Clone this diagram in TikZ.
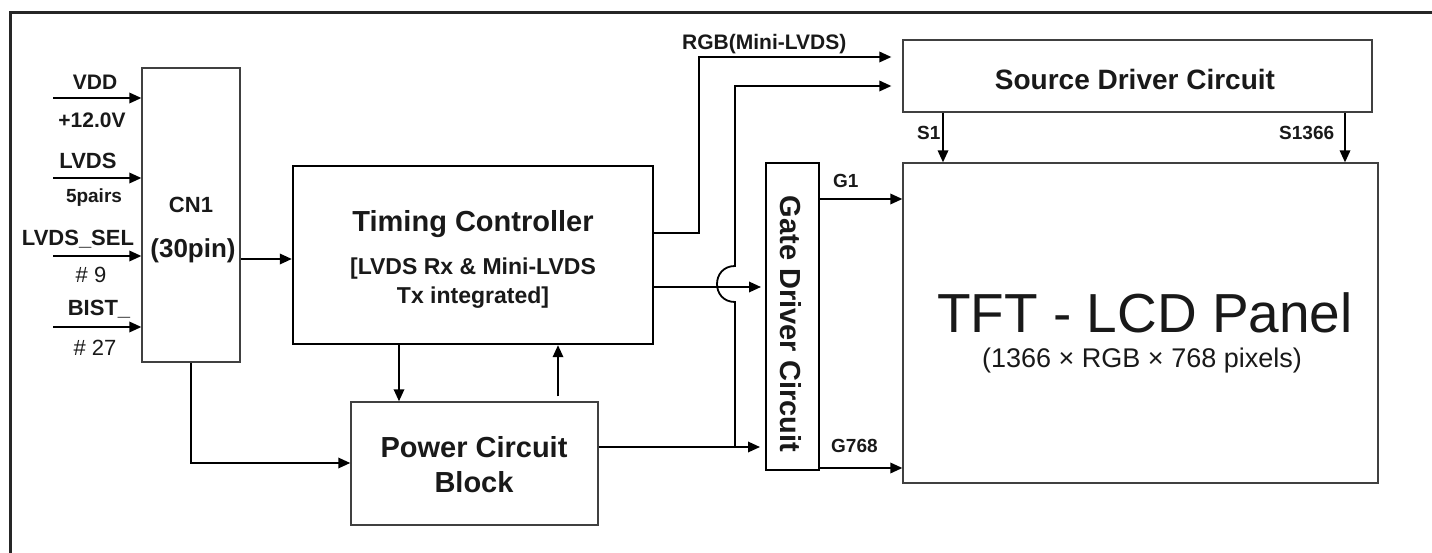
\documentclass[tikz,border=0pt]{standalone}
\usepackage{fontspec}
\setmainfont{Liberation Sans}
\usetikzlibrary{arrows.meta}
\tikzset{
  boxthin/.style={draw=black!75, line width=1.3pt, rectangle, inner sep=0pt},
  boxthick/.style={draw=black, line width=2.4pt, rectangle, inner sep=0pt},
  conn/.style={draw=black, line width=1.8pt},
  arr/.style={conn, -{Triangle[length=12pt,width=10.5pt]}},
  lbl/.style={inner sep=0pt, anchor=base, text=black!90, font=\bfseries\fontsize{21}{25}\selectfont},
  lblw/.style={lbl, anchor=base west},
  reg/.style={inner sep=0pt, anchor=base, text=black!90, font=\fontsize{21}{25}\selectfont},
  big/.style={inner sep=0pt, anchor=base, text=black!90, font=\bfseries\fontsize{29}{34}\selectfont},
  mid/.style={inner sep=0pt, anchor=base, text=black!90, font=\bfseries\fontsize{23}{27}\selectfont},
  sml/.style={inner sep=0pt, anchor=base west, text=black!90, font=\bfseries\fontsize{19}{23}\selectfont},
}
\begin{document}
\begin{tikzpicture}[x=1pt,y=-1pt]
\useasboundingbox (0,0) rectangle (1432,553);
% frame
\draw[line width=3pt, black!85] (10,553) -- (10,13) -- (1432,13);

% boxes
\node[boxthin, minimum width=98pt, minimum height=294pt] (cn1) at (191,215) {};
\node[boxthick, minimum width=360pt, minimum height=178pt] (tc) at (473,255) {};
\node[boxthin, line width=1.5pt, minimum width=247pt, minimum height=123pt] (pcb) at (474.5,463.5) {};
\node[boxthick, line width=2pt, minimum width=53pt, minimum height=307pt] (gate) at (792.5,316.5) {};
\node[boxthin, minimum width=469pt, minimum height=72pt] (sd) at (1137.5,76) {};
\node[boxthin, minimum width=475pt, minimum height=320pt] (panel) at (1140.5,323) {};

% box texts
\node[lbl, font=\bfseries\fontsize{22}{26}\selectfont] (cn1a) at (191,213) {CN1};
\node[lbl, font=\bfseries\fontsize{26}{30}\selectfont] (cn1b) at (193,258) {(30pin)};
\node[big] (tca) at (473,232) {Timing Controller};
\node[mid] (tcb) at (473,275) {[LVDS Rx \& Mini-LVDS};
\node[mid] (tcc) at (473,303) {Tx integrated]};
\node[big] (pcba) at (474,457) {Power Circuit};
\node[big] (pcbb) at (474,492) {Block};
\node[big, font=\bfseries\fontsize{28}{32}\selectfont] (sda) at (1135,90) {Source Driver Circuit};
\node[inner sep=0pt, rotate=-90, text=black!90, font=\bfseries\fontsize{29}{34}\selectfont] (gatea) at (791,324) {Gate Driver Circuit};
\node[inner sep=0pt, anchor=base, text=black!90, font=\fontsize{55}{60}\selectfont] (pa) at (1145,332) {TFT - LCD Panel};
\node[inner sep=0pt, anchor=base, text=black!90, font=\fontsize{27}{30}\selectfont] (pb) at (1142,367) {(1366 × RGB × 768 pixels)};

% input labels
\node[lbl] (lvdd) at (95,90) {VDD};
\node[lbl] (l12) at (92,128) {+12.0V};
\node[lbl, font=\bfseries\fontsize{22}{26}\selectfont] (llvds) at (88,169) {LVDS};
\node[lbl, font=\bfseries\fontsize{19}{23}\selectfont] (l5p) at (94,203) {5pairs};
\node[lbl, font=\bfseries\fontsize{22}{26}\selectfont] (lsel) at (78,246) {LVDS\_SEL};
\node[reg, font=\fontsize{22}{26}\selectfont] (l9) at (91,283) {\#~9};
\node[lbl, font=\bfseries\fontsize{22}{26}\selectfont] (lbist) at (99,316) {BIST\_};
\node[reg, font=\fontsize{22}{26}\selectfont] (l27) at (95,355) {\#~27};

% other labels
\node[lblw] (lrgb) at (682,50) {RGB(Mini-LVDS)};
\node[sml] (lg1) at (833,188) {G1};
\node[sml] (lg768) at (831,452) {G768};
\node[sml] (ls1) at (917,140) {S1};
\node[sml] (ls1366) at (1279,140) {S1366};

% helper coordinates
\coordinate (iVDD) at (53,98);
\coordinate (iLVDS) at (53,178);
\coordinate (iSEL) at (53,256);
\coordinate (iBIST) at (53,327);
\coordinate (y259) at (0,259);
\coordinate (y233) at (0,233);
\coordinate (y287) at (0,287);
\coordinate (y447) at (0,447);
\coordinate (y463) at (0,463);
\coordinate (y57) at (0,57);
\coordinate (y86) at (0,86);
\coordinate (y199) at (0,199);
\coordinate (y468) at (0,468);
\coordinate (x399) at (399,0);
\coordinate (x558) at (558,0);
\coordinate (x943) at (943,0);
\coordinate (x1345) at (1345,0);
\coordinate (rgbx) at (699,0);
\coordinate (jx) at (735,0);

% input arrows
\draw[arr] (iVDD) -- (iVDD -| cn1.west);
\draw[arr] (iLVDS) -- (iLVDS -| cn1.west);
\draw[arr] (iSEL) -- (iSEL -| cn1.west);
\draw[arr] (iBIST) -- (iBIST -| cn1.west);

% CN1 -> TC
\draw[arr] (cn1.east |- y259) -- (tc.west |- y259);
% CN1 -> PCB
\draw[arr] (cn1.south) |- (pcb.west |- y463);
% TC <-> PCB
\draw[arr] (tc.south -| x399) -- (pcb.north -| x399);
\draw[arr, shorten <=5pt] (pcb.north -| x558) -- (tc.south -| x558);
% RGB to source driver
\draw[arr, shorten >=11pt] (tc.east |- y233) -| (rgbx |- y57) -- (sd.west |- y57);
% TC -> gate
\draw[arr, shorten >=4pt] (tc.east |- y287) -- (gate.west |- y287);
% PCB -> gate
\draw[arr, shorten >=5pt] (pcb.east |- y447) -- (gate.west |- y447);
% power branch to source driver with jump
\coordinate (jb) at (735,447);
\coordinate (jlo) at (735,302);
\coordinate (jhi) at (735,266);
\draw[arr, shorten >=11pt] (jb) -- (jlo) .. controls (711,302) and (711,266) .. (jhi) -- (jx |- y86) -- (sd.west |- y86);
% source -> panel
\draw[arr] (sd.south -| x943) -- (panel.north -| x943);
\draw[arr] (sd.south -| x1345) -- (panel.north -| x1345);
% gate -> panel
\draw[arr] (gate.east |- y199) -- (panel.west |- y199);
\draw[arr] (gate.east |- y468) -- (panel.west |- y468);
\end{tikzpicture}
\end{document}
